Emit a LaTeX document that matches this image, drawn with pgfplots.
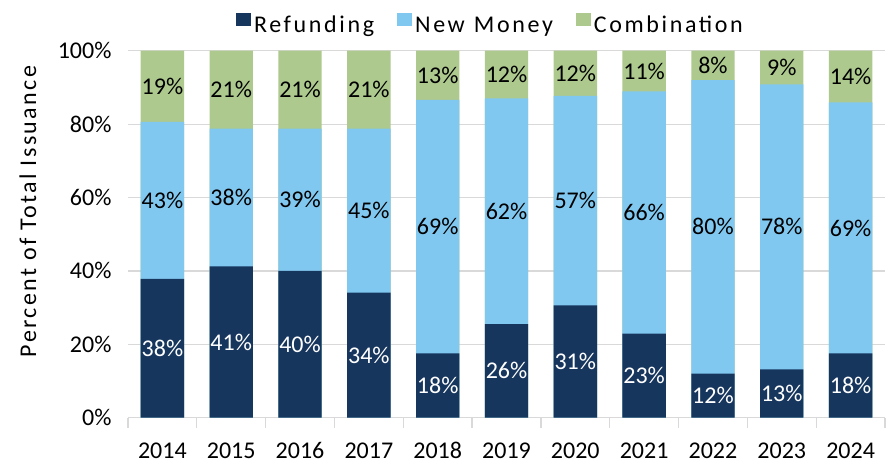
\documentclass[border=0pt]{standalone}
\usepackage{fontspec}
\setmainfont{Carlito}
\usepackage{pgfplots}
\usepackage{pgfplotstable}
\pgfplotsset{compat=1.18}
\definecolor{cnavy}{RGB}{23,54,93}
\definecolor{cblue}{RGB}{129,200,240}
\definecolor{cgreen}{RGB}{173,201,142}
\definecolor{cgrid}{RGB}{217,217,217}
\newcommand{\bigf}{\fontsize{24}{28}\selectfont}
\newcommand{\spf}{\fontsize{24}{28}\selectfont\addfontfeature{LetterSpace=10}}
\newcommand{\lgf}{\fontsize{24}{28}\selectfont\addfontfeature{LetterSpace=11}}
\pgfplotstableread{
x ref top refl newl combl
0 37.8 80.6 38 43 19
1 41.2 78.8 41 38 21
2 40.0 78.8 40 39 21
3 34.1 78.8 34 45 21
4 17.5 86.6 18 69 13
5 25.5 87.0 26 62 12
6 30.6 87.7 31 57 12
7 22.9 88.9 23 66 11
8 12.0 92.0 12 80 8
9 13.2 90.8 13 78 9
10 17.5 85.9 18 69 14
}\data
\begin{document}
\begin{tikzpicture}
\path[use as bounding box] (-128pt,-46.3pt) rectangle (760pt,417.7pt);
\begin{axis}[
 at={(0pt,0pt)}, anchor=south west,
 scale only axis, width=757pt, height=367pt,
 xmin=-0.5, xmax=10.5, ymin=0, ymax=100,
 axis x line*=bottom, axis y line*=left,
 y axis line style={draw=none},
 x axis line style={cgrid, line width=1.2pt, -},
 xtick={0,...,10},
 xticklabels={2014,2015,2016,2017,2018,2019,2020,2021,2022,2023,2024},
 major x tick style={draw=none},
 minor xtick={-0.5,0.5,...,10.5},
 minor x tick style={cgrid, line width=1.2pt},
 minor tick length=10pt, major tick length=0pt, tick align=outside,
 ytick={0,20,...,100},
 ytick style={draw=none},
 ymajorgrids, grid style={cgrid, line width=1.2pt},
 yticklabel={\pgfmathprintnumber{\tick}\%},
 /pgf/number format/assume math mode=true,
 tick label style={font=\bigf},
 yticklabel style={xshift=-13pt},
 xticklabel style={anchor=base, yshift=-40.8pt},
 every axis y label/.style={at={(axis description cs:0,0.562)}, xshift=-100pt, rotate=90, anchor=center, font=\spf},
 ylabel={Percent of Total Issuance},
 legend style={at={(0.4795,1)}, anchor=south, yshift=12pt, draw=none, fill=none,
   legend columns=3, font=\lgf, nodes={inner xsep=3pt, inner ysep=2pt},
   /tikz/every even column/.style={column sep=20pt}},
 legend image code/.code={\fill[#1] (0pt,-1pt) rectangle (15pt,12pt);},
 reverse legend,
]
\addplot[ybar, bar width=0.63, bar shift=0pt, fill=cgreen, draw=none] table[x=x, y expr=100] {\data};
\addlegendentry{Combination}
\addplot[ybar, bar width=0.63, bar shift=0pt, fill=cblue, draw=none] table[x=x, y=top] {\data};
\addlegendentry{New\hspace{9pt}Money}
\addplot[ybar, bar width=0.63, bar shift=0pt, fill=cnavy, draw=none] table[x=x, y=ref] {\data};
\addlegendentry{Refunding}
\addplot[forget plot, draw=none, mark=none, nodes near coords={\pgfplotspointmeta\%}, point meta=explicit symbolic,
  nodes near coords style={font=\bigf, text=white, anchor=center}]
  table[x=x, y expr=\thisrow{ref}/2, meta=refl] {\data};
\addplot[forget plot, draw=none, mark=none, nodes near coords={\pgfplotspointmeta\%}, point meta=explicit symbolic,
  nodes near coords style={font=\bigf, text=black, anchor=center}]
  table[x=x, y expr=(\thisrow{ref}+\thisrow{top})/2, meta=newl] {\data};
\addplot[forget plot, draw=none, mark=none, nodes near coords={\pgfplotspointmeta\%}, point meta=explicit symbolic,
  nodes near coords style={font=\bigf, text=black, anchor=center}]
  table[x=x, y expr=(\thisrow{top}+100)/2, meta=combl] {\data};
\end{axis}
\end{tikzpicture}
\end{document}
